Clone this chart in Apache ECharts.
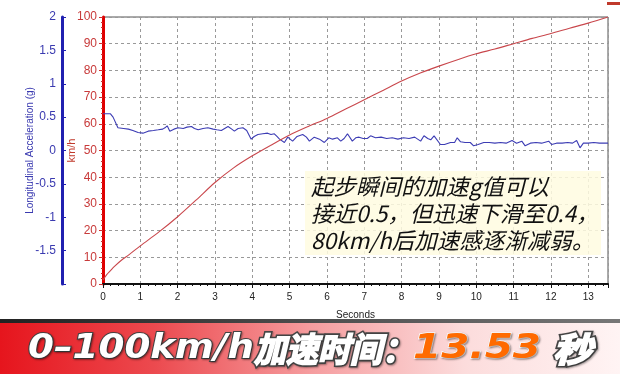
<!DOCTYPE html>
<html><head><meta charset="utf-8">
<script src="https://cdn.jsdelivr.net/npm/echarts@6/dist/echarts.min.js"></script>
<style>html,body{margin:0;padding:0;background:#fff}#c{width:620px;height:374px}</style>
</head><body><div id="c"></div>
<script>
// Speed (km/h) vs seconds
var speedData = [[0,1.5],[0.1,3.5],[0.2,5],[0.3,6.5],[0.5,9],[0.7,11],[1,14.3],[1.5,19.5],[2,25.2],[2.5,31.5],[3,38],[3.5,43.5],[4,48],[4.5,52],[5,55.8],[5.5,59],[6,62],[6.5,65.5],[7,69],[7.5,72.5],[8,76],[8.5,79],[9,81.6],[9.5,84],[10,86.2],[10.5,88],[11,90],[11.5,92],[12,93.8],[12.5,95.8],[13,97.7],[13.53,100]];
// Longitudinal acceleration (g) vs seconds
var accelData = [[0,0.55],[0.2,0.55],[0.27,0.50],[0.4,0.34],[0.55,0.33],[0.68,0.32],[0.8,0.30],[0.94,0.27],[1.07,0.26],[1.21,0.29],[1.35,0.30],[1.48,0.31],[1.6,0.32],[1.66,0.34],[1.72,0.37],[1.79,0.29],[1.9,0.32],[2.01,0.34],[2.15,0.33],[2.25,0.35],[2.37,0.36],[2.45,0.33],[2.55,0.31],[2.68,0.33],[2.81,0.34],[2.95,0.32],[3.05,0.31],[3.17,0.30],[3.35,0.36],[3.45,0.32],[3.52,0.29],[3.62,0.33],[3.75,0.34],[3.85,0.30],[3.97,0.17],[4.05,0.21],[4.15,0.24],[4.28,0.25],[4.41,0.26],[4.5,0.24],[4.59,0.25],[4.66,0.21],[4.73,0.17],[4.86,0.12],[4.95,0.20],[5.08,0.14],[5.2,0.21],[5.35,0.24],[5.45,0.20],[5.53,0.14],[5.66,0.20],[5.8,0.17],[5.93,0.12],[6.05,0.19],[6.15,0.17],[6.28,0.19],[6.37,0.14],[6.46,0.18],[6.55,0.25],[6.68,0.14],[6.77,0.19],[6.86,0.20],[6.97,0.18],[7.08,0.18],[7.17,0.22],[7.3,0.19],[7.45,0.20],[7.6,0.18],[7.75,0.19],[7.9,0.17],[8.05,0.19],[8.2,0.18],[8.35,0.20],[8.51,0.14],[8.6,0.22],[8.7,0.18],[8.78,0.16],[8.87,0.22],[9.04,0.09],[9.15,0.09],[9.31,0.12],[9.42,0.12],[9.49,0.19],[9.58,0.13],[9.7,0.12],[9.84,0.12],[9.93,0.07],[10.05,0.09],[10.2,0.12],[10.35,0.12],[10.5,0.11],[10.65,0.12],[10.8,0.11],[10.96,0.15],[11.08,0.11],[11.22,0.14],[11.31,0.07],[11.45,0.11],[11.6,0.12],[11.75,0.11],[11.94,0.14],[12.02,0.09],[12.15,0.11],[12.3,0.11],[12.45,0.12],[12.58,0.11],[12.69,0.15],[12.78,0.04],[12.87,0.11],[13.0,0.11],[13.15,0.12],[13.3,0.11],[13.45,0.11],[13.53,0.11]];
var xTicks = [0,1,2,3,4,5,6,7,8,9,10,11,12,13];
var speedTicks = [0,10,20,30,40,50,60,70,80,90,100];
var accelTicks = [-1.5,-1,-0.5,0,0.5,1,1.5,2];
var noteLines = ['起步瞬间的加速g值可以','接近0.5，但迅速下滑至0.4，','80km/h后加速感逐渐减弱。'];
var bannerLatin = '0–100km/h';
var bannerLabel = '加速时间：';
var bannerValue = '13.53';
var bannerUnit = '秒';

var FONT = '"Liberation Sans", Arial, "Noto Sans CJK SC", sans-serif';
var LATIN_FONT = 'italic bold 34px "DejaVu Sans", sans-serif';
var CJK_FONT = 'italic bold 34px "Noto Sans CJK SC", sans-serif';

var mctx = document.createElement('canvas').getContext('2d');
function fitScale(text, font, target){ mctx.font = font; var w = mctx.measureText(text).width; return w > 0 ? target / w : 1; }

function bannerText(text, font, x, x2, fill, stroke, lw, shadow){
  return {type:'text', x:x, y:349, z:45, scaleX:fitScale(text, font, x2 - x), originX:0,
    style:{text:text, font:font, fill:fill, stroke:stroke, lineWidth:lw, textVerticalAlign:'middle', verticalAlign:'middle', textAlign:'left', align:'left',
      textShadowColor:shadow ? 'rgba(0,0,0,0.35)' : 'transparent', textShadowBlur:shadow ? 2 : 0, textShadowOffsetX:1, textShadowOffsetY:1}};
}

var chart = echarts.init(document.getElementById('c'), null, {renderer:'canvas'});
chart.setOption({
  animation:false,
  backgroundColor:'#ffffff',
  grid:{left:103, right:12, top:17, bottom:90, show:true, borderColor:'#555', borderWidth:1},
  xAxis:{type:'value', min:0, max:13.53, interval:1,
    name:'Seconds', nameLocation:'middle', nameGap:26, nameMoveOverlap:false,
    nameTextStyle:{fontFamily:FONT, fontSize:10, color:'#222'},
    axisLine:{lineStyle:{color:'#111', width:2}},
    axisTick:{show:true, length:4, lineStyle:{color:'#111'}},
    minorTick:{show:true, splitNumber:5, length:2, lineStyle:{color:'#111'}},
    axisLabel:{fontFamily:FONT, fontSize:10, color:'#222', margin:8,
      formatter:function(v){return xTicks.indexOf(v)>=0 ? String(v) : '';}},
    splitLine:{show:true, lineStyle:{color:'#999', type:[3,3], width:1}}
  },
  yAxis:[
    {type:'value', min:0, max:100, interval:10, position:'left',
      name:'km/h', nameLocation:'middle', nameGap:26, nameMoveOverlap:false,
      nameTextStyle:{fontFamily:FONT, fontSize:11, color:'#c0392b'},
      axisLine:{show:true, lineStyle:{color:'#e00000', width:3}},
      axisTick:{show:true, length:4, lineStyle:{color:'#d03030'}},
      minorTick:{show:true, splitNumber:5, length:2, lineStyle:{color:'#d03030'}},
      axisLabel:{fontFamily:FONT, fontSize:12, color:'#c83a3a', margin:6,
        formatter:function(v){return speedTicks.indexOf(v)>=0 ? String(v) : '';}},
      splitLine:{show:true, lineStyle:{color:'#999', type:[3,3], width:1}}
    },
    {type:'value', min:-2, max:2, interval:0.5, position:'left', offset:41,
      name:'Longitudinal Acceleration (g)', nameLocation:'middle', nameGap:27, nameMoveOverlap:false,
      nameTextStyle:{fontFamily:FONT, fontSize:10, color:'#3a3ab0'},
      axisLine:{show:true, lineStyle:{color:'#2020b0', width:3}},
      axisTick:{show:true, inside:true, length:4, lineStyle:{color:'#2020b0'}},
      minorTick:{show:true, splitNumber:5, length:2, lineStyle:{color:'#2020b0'}},
      axisLabel:{fontFamily:FONT, fontSize:12, color:'#3a3ab0', margin:6, showMinLabel:false,
        formatter:function(v){return accelTicks.indexOf(v)>=0 ? String(v) : '';}},
      splitLine:{show:false}
    }
  ],
  series:[
    {type:'line', name:'Speed', yAxisIndex:0, data:speedData, smooth:0.3, showSymbol:false,
      lineStyle:{color:'#c9474c', width:1.1}, z:3},
    {type:'line', name:'Accel', yAxisIndex:1, data:accelData, showSymbol:false,
      lineStyle:{color:'#3c3cb4', width:1.1}, z:2}
  ],
  graphic:[
    {type:'rect', left:607, top:2, shape:{width:13, height:3}, style:{fill:'#c0392b'}, silent:true},
    {type:'rect', left:305, top:171, shape:{width:296, height:84},
      style:{fill:'rgba(255,252,225,0.85)'}, z:50},
    {type:'text', left:311, top:173, z:51,
      style:{text:noteLines.join('\n'), font:'italic 22.5px "Noto Sans CJK SC", sans-serif', fill:'#111', lineHeight:27}},
    {type:'rect', left:0, top:322, shape:{width:620, height:52}, z:40,
      style:{fill:new echarts.graphic.LinearGradient(0,0,1,0,[
        {offset:0, color:'#e6151d'},{offset:0.25, color:'#ec4a4f'},{offset:0.5, color:'#f59c9e'},{offset:0.75, color:'#fcdcdc'},{offset:1, color:'#fff4f4'}])}},
    {type:'rect', left:0, top:319, shape:{width:620, height:4}, z:41,
      style:{fill:new echarts.graphic.LinearGradient(0,0,1,0,[{offset:0,color:'#222'},{offset:1,color:'#777'}])}},
    bannerText(bannerLatin, LATIN_FONT, 28, 254, '#ffffff', '#444', 2, true),
    bannerText(bannerLabel, CJK_FONT, 254, 414, '#ffffff', '#444', 5, true),
    bannerText(bannerLabel, CJK_FONT, 254, 414, '#ffffff', '#ffffff', 1.8, false),
    bannerText(bannerValue, LATIN_FONT, 413, 541, '#ff6a00', '#ffffff', 1.5, true),
    bannerText(bannerUnit, CJK_FONT, 553, 592, '#ffffff', '#444', 5, true),
    bannerText(bannerUnit, CJK_FONT, 553, 592, '#ffffff', '#ffffff', 1.8, false)
  ]
});
</script></body></html>
